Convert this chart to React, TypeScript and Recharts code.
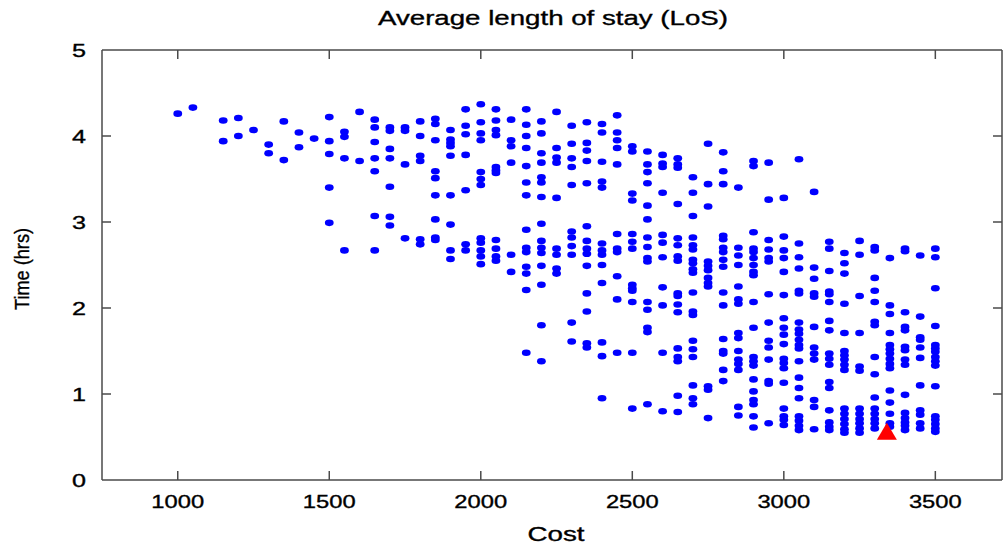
import React from "react"
import { ScatterChart, Scatter, XAxis, YAxis, ReferenceLine } from "recharts"

const COSTS = [
  1000, 1050, 1150, 1200, 1250, 1300, 1350, 1400, 1450, 1500, 1550, 1600, 1650, 1700, 1750, 1800, 1850, 1900, 1950,
  2000, 2050, 2100, 2150, 2200, 2250, 2300, 2350, 2400, 2450, 2500, 2550, 2600, 2650, 2700, 2750, 2800, 2850, 2900,
  2950, 3000, 3050, 3100, 3150, 3200, 3250, 3300, 3350, 3400, 3450, 3500,
]

// one list of stay times (hrs) per cost column above
const TIMES = [
  [4.26],
  [4.33],
  [4.18, 3.94],
  [4.21, 4.0],
  [4.07],
  [3.9, 3.8],
  [4.17, 3.72],
  [4.04, 3.87],
  [3.97],
  [4.22, 3.94, 3.79, 3.4, 2.99],
  [4.05, 3.99, 3.74, 2.67],
  [4.28, 3.71],
  [4.19, 4.1, 3.93, 3.74, 3.59, 3.07, 2.67],
  [4.1, 4.06, 3.85, 3.74, 3.41, 3.06, 2.96],
  [4.1, 4.06, 3.67, 2.81],
  [4.17, 4.0, 3.77, 3.71, 2.8, 2.74],
  [4.2, 4.14, 3.95, 3.59, 3.51, 3.31, 3.03, 2.82, 2.79],
  [4.07, 3.96, 3.92, 3.88, 3.77, 3.31, 2.97, 2.67, 2.57],
  [4.31, 4.12, 4.02, 3.78, 3.37, 2.74, 2.67],
  [4.37, 4.16, 4.03, 3.95, 3.58, 3.5, 3.43, 2.81, 2.76, 2.67, 2.6, 2.51],
  [4.31, 4.18, 4.07, 4.01, 3.64, 3.6, 3.57, 2.79, 2.69, 2.6, 2.55],
  [4.19, 3.95, 3.88, 3.69, 2.62, 2.42],
  [4.31, 4.13, 4.0, 3.86, 3.65, 3.46, 3.31, 2.91, 2.7, 2.65, 2.48, 2.4, 2.21, 1.48],
  [4.17, 4.03, 3.8, 3.69, 3.52, 3.46, 3.29, 2.98, 2.78, 2.7, 2.64, 2.49, 2.27, 1.8, 1.38],
  [4.28, 3.86, 3.75, 3.69, 3.28, 2.69, 2.62, 2.46, 2.4],
  [4.12, 3.91, 3.74, 3.64, 3.43, 2.89, 2.82, 2.72, 2.62, 1.83, 1.61],
  [4.16, 3.92, 3.83, 3.71, 3.45, 2.95, 2.78, 2.69, 2.63, 2.49, 2.17, 1.96, 1.59, 1.54],
  [4.14, 4.04, 3.7, 3.47, 3.4, 2.75, 2.67, 2.62, 2.5, 2.29, 1.6, 1.44, 0.95],
  [4.24, 4.04, 3.95, 3.86, 3.67, 2.86, 2.69, 2.65, 2.37, 2.1, 1.48],
  [3.88, 3.82, 3.33, 3.25, 2.86, 2.77, 2.69, 2.27, 2.23, 2.2, 2.07, 1.48, 0.83],
  [3.82, 3.67, 3.58, 3.45, 3.19, 3.03, 2.82, 2.71, 2.58, 2.54, 2.07, 1.98, 1.77, 1.72, 0.88],
  [3.78, 3.68, 3.64, 3.34, 2.85, 2.76, 2.59, 2.24, 2.03, 1.48, 0.8],
  [3.74, 3.67, 3.63, 3.21, 2.81, 2.73, 2.6, 2.55, 2.17, 2.14, 2.04, 1.95, 1.53, 1.43, 1.38, 0.98, 0.79],
  [3.52, 3.34, 3.07, 2.82, 2.73, 2.68, 2.56, 2.52, 2.45, 2.41, 2.18, 1.96, 1.92, 1.62, 1.52, 1.43, 1.1, 0.95, 0.88],
  [3.91, 3.44, 3.18, 2.54, 2.49, 2.44, 2.35, 2.29, 2.25, 1.09, 1.05, 0.72],
  [3.81, 3.59, 3.44, 2.84, 2.8, 2.7, 2.65, 2.56, 2.48, 2.18, 2.03, 1.64, 1.5, 1.47, 1.28, 1.15],
  [3.4, 2.7, 2.61, 2.5, 2.25, 2.1, 2.05, 1.71, 1.65, 1.5, 1.4, 1.35, 1.28, 0.85, 0.75],
  [3.71, 3.65, 2.88, 2.69, 2.65, 2.58, 2.5, 2.42, 2.38, 2.07, 1.77, 1.43, 1.38, 1.33, 1.17, 1.03, 0.93, 0.88, 0.74, 0.61],
  [3.69, 3.26, 2.79, 2.68, 2.58, 2.54, 2.16, 1.83, 1.62, 1.54, 1.4, 1.15, 1.12, 0.66],
  [3.28, 2.83, 2.67, 2.58, 2.42, 2.15, 1.88, 1.77, 1.69, 1.58, 1.41, 1.36, 1.3, 1.13, 0.83, 0.74, 0.7, 0.64],
  [3.73, 2.75, 2.59, 2.46, 2.2, 2.17, 1.83, 1.75, 1.7, 1.63, 1.57, 1.53, 1.38, 1.19, 1.07, 0.95, 0.74, 0.69, 0.63, 0.58],
  [3.35, 2.47, 2.34, 2.17, 2.13, 1.78, 1.54, 1.47, 1.4, 0.93, 0.85, 0.59],
  [2.77, 2.69, 2.43, 2.19, 2.16, 2.07, 1.85, 1.74, 1.47, 1.41, 1.34, 1.14, 1.07, 0.81, 0.67, 0.62, 0.58],
  [2.64, 2.52, 2.4, 2.05, 1.71, 1.5, 1.45, 1.4, 1.34, 1.28, 0.83, 0.77, 0.71, 0.65, 0.59, 0.55],
  [2.78, 2.62, 2.14, 1.71, 1.32, 1.27, 0.83, 0.77, 0.71, 0.66, 0.6, 0.55],
  [2.71, 2.67, 2.35, 2.2, 2.07, 1.84, 1.8, 1.43, 1.23, 0.96, 0.83, 0.77, 0.71, 0.66, 0.6],
  [2.58, 2.03, 1.93, 1.71, 1.57, 1.52, 1.47, 1.41, 1.35, 1.3, 1.04, 0.9, 0.77, 0.66, 0.62],
  [2.69, 2.66, 1.95, 1.78, 1.74, 1.55, 1.51, 1.4, 1.34, 0.99, 0.78, 0.72, 0.67, 0.63, 0.58],
  [2.61, 1.9, 1.66, 1.63, 1.54, 1.42, 1.1, 0.81, 0.76, 0.66, 0.6],
  [2.69, 2.59, 2.23, 1.79, 1.57, 1.53, 1.49, 1.43, 1.38, 1.33, 1.09, 0.74, 0.7, 0.65, 0.6, 0.56],
]

const BEST = [{ cost: 3340, time: 0.55 }]

const X_TICKS = [1000, 1500, 2000, 2500, 3000, 3500]
const Y_TICKS = [0, 1, 2, 3, 4, 5]
const X_DOMAIN: [number, number] = [750, 3720]
const Y_DOMAIN: [number, number] = [0, 5]

const W = 1003
const H = 546
const PLOT = { left: 102, right: 1002, top: 50, bottom: 480 }
const FRAME = "#4a4a4a"
const INK = "#000"
const FONT = "'Liberation Sans', Arial, sans-serif"

const points = COSTS.flatMap((cost, i) => TIMES[i].map((time) => ({ cost, time })))

const Dot = (props: any) => {
  const { cx, cy } = props
  if (cx == null || cy == null) return null
  return <ellipse cx={cx} cy={cy} rx={4.4} ry={3.3} fill="#0000ff" />
}

const Triangle = (props: any) => {
  const { cx, cy } = props
  if (cx == null || cy == null) return null
  return <polygon points={`${cx},${cy - 10} ${cx - 10},${cy + 7} ${cx + 10},${cy + 7}`} fill="#ff0000" />
}

const textStyle = {
  fontFamily: FONT,
  fill: INK,
  stroke: INK,
  strokeWidth: 0.35,
  lengthAdjust: "spacingAndGlyphs",
} as const

const XTick = (props: any) => {
  const { x, payload } = props
  const label = String(payload.value)
  return (
    <g>
      <line x1={x} x2={x} y1={PLOT.bottom} y2={PLOT.bottom - 9} stroke={FRAME} strokeWidth={1.5} />
      <line x1={x} x2={x} y1={PLOT.top} y2={PLOT.top + 9} stroke={FRAME} strokeWidth={1.5} />
      <text x={x} y={PLOT.bottom + 28} textAnchor="middle" fontSize={18.5} textLength={label.length * 13.2} {...textStyle}>
        {label}
      </text>
    </g>
  )
}

const YTick = (props: any) => {
  const { y, payload } = props
  const label = String(payload.value)
  return (
    <g>
      {payload.value > 0 && payload.value < 5 && (
        <>
          <line x1={PLOT.left} x2={PLOT.left + 9} y1={y} y2={y} stroke={FRAME} strokeWidth={1.5} />
          <line x1={PLOT.right - 9} x2={PLOT.right} y1={y} y2={y} stroke={FRAME} strokeWidth={1.5} />
        </>
      )}
      <text x={86} y={y + 6.5} textAnchor="end" fontSize={18.5} textLength={label.length * 14} {...textStyle}>
        {label}
      </text>
    </g>
  )
}

export default function App() {
  return (
    <div style={{ position: "absolute", left: 0, top: 0, width: W, height: H, background: "#fff" }}>
      <ScatterChart width={W} height={H} margin={{ top: PLOT.top, right: W - PLOT.right, bottom: 0, left: 0 }}>
        <XAxis
          type="number"
          dataKey="cost"
          domain={X_DOMAIN}
          ticks={X_TICKS}
          height={H - PLOT.bottom}
          axisLine={{ stroke: FRAME, strokeWidth: 1.5 }}
          tickLine={false}
          tick={<XTick />}
          allowDataOverflow
        />
        <YAxis
          type="number"
          dataKey="time"
          domain={Y_DOMAIN}
          ticks={Y_TICKS}
          width={PLOT.left}
          axisLine={{ stroke: FRAME, strokeWidth: 1.5 }}
          tickLine={false}
          tick={<YTick />}
          allowDataOverflow
        />
        <ReferenceLine y={Y_DOMAIN[1]} stroke={FRAME} strokeWidth={1.5} ifOverflow="visible" />
        <ReferenceLine x={X_DOMAIN[1]} stroke={FRAME} strokeWidth={1.5} ifOverflow="visible" />
        <Scatter data={points} shape={<Dot />} isAnimationActive={false} />
        <Scatter data={BEST} shape={<Triangle />} isAnimationActive={false} />
      </ScatterChart>
      <svg width={W} height={H} style={{ position: "absolute", left: 0, top: 0, pointerEvents: "none" }}>
        <text x={553} y={25} textAnchor="middle" fontSize={20.5} textLength={350} {...textStyle}>
          Average length of stay (LoS)
        </text>
        <text x={556} y={541} textAnchor="middle" fontSize={20.5} textLength={57} {...textStyle}>
          Cost
        </text>
        <text transform="translate(29,269) rotate(-90)" textAnchor="middle" fontSize={20.5} textLength={82} {...textStyle}>
          Time (hrs)
        </text>
      </svg>
    </div>
  )
}
